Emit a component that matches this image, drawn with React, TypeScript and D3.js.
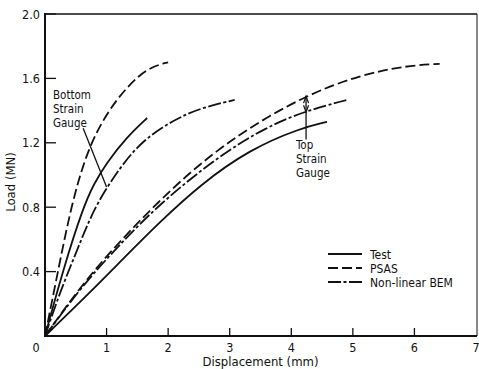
import React from "react";
import * as d3 from "d3";

type P = [number, number];

const xTicks = [0, 1, 2, 3, 4, 5, 6, 7];
const yTicks = [0.4, 0.8, 1.2, 1.6, 2.0];
const yTickLabels = ["0.4", "0.8", "1.2", "1.6", "2.0"];

const bottomTest: P[] = [[0, 0], [0.3, 0.42], [0.62, 0.8], [0.8, 0.95], [1.0, 1.075], [1.33, 1.236], [1.66, 1.354]];
const bottomPSAS: P[] = [[0, 0], [0.21, 0.4], [0.42, 0.8], [0.68, 1.15], [1.0, 1.385], [1.33, 1.547], [1.66, 1.665], [2.0, 1.7]];
const bottomBEM: P[] = [[0, 0], [0.25, 0.28], [0.54, 0.55], [0.8, 0.8], [1.22, 1.05], [1.59, 1.217], [2.08, 1.34], [2.52, 1.416], [3.08, 1.466]];

const topTest: P[] = [[0, 0], [0.73, 0.27], [1.27, 0.48], [1.87, 0.71], [2.52, 0.94], [3.33, 1.16], [4.14, 1.29], [4.58, 1.33]];
const topPSAS: P[] = [[0, 0], [0.62, 0.33], [1.22, 0.59], [1.83, 0.83], [2.52, 1.075], [3.33, 1.3], [4.25, 1.497], [5.11, 1.62], [5.88, 1.68], [6.41, 1.69]];
const topBEM: P[] = [[0, 0], [0.62, 0.32], [1.22, 0.57], [1.83, 0.81], [2.79, 1.11], [3.6, 1.3], [4.25, 1.4], [4.9, 1.466]];

const legendLabels = ["Test", "PSAS", "Non-linear BEM"];
const bottomLabel = ["Bottom", "Strain", "Gauge"];
const topLabel = ["Top", "Strain", "Gauge"];

const W = 479;
const H = 369;
const FONT = "'DejaVu Sans Condensed', 'DejaVu Sans', sans-serif";

const DASH_TEST = "none";
const DASH_PSAS = "10,4";
const DASH_BEM = "13,2.5,3,2.5";

export default function App() {
  const x = d3.scaleLinear().domain([0, 7]).range([45, 476]);
  const y = d3.scaleLinear().domain([0, 2]).range([336, 14]);
  const line = d3
    .line<P>()
    .x((d) => x(d[0]))
    .y((d) => y(d[1]))
    .curve(d3.curveBasis);

  const series = [
    { d: bottomTest, dash: DASH_TEST },
    { d: bottomPSAS, dash: DASH_PSAS },
    { d: bottomBEM, dash: DASH_BEM },
    { d: topTest, dash: DASH_TEST },
    { d: topPSAS, dash: DASH_PSAS },
    { d: topBEM, dash: DASH_BEM },
  ];
  const legendDash = [DASH_TEST, DASH_PSAS, DASH_BEM];

  const x0 = x(0), x7 = x(7), y0 = y(0), y2 = y(2);
  const topX = x(4.24);

  return (
    <svg
      width={W}
      height={H}
      style={{ position: "absolute", left: 0, top: 0, background: "#fff" }}
      fontFamily={FONT}
    >
      <rect x={0} y={0} width={W} height={H} fill="#fff" />
      {/* frame */}
      <line x1={x0} x2={x7 + 1} y1={y2} y2={y2} stroke="#111" strokeWidth={1.4} />
      <line x1={x7 + 1} x2={x7 + 1} y1={y2} y2={y0} stroke="#111" strokeWidth={1} />
      <line x1={x0} x2={x0} y1={y2 - 1} y2={y0 + 1} stroke="#111" strokeWidth={2} />
      <line x1={x0 - 1} x2={x7 + 1} y1={y0} y2={y0} stroke="#111" strokeWidth={2} />

      {/* y ticks */}
      {yTicks.map((t, i) => (
        <g key={"y" + t}>
          <line x1={x0} x2={x0 + 11} y1={y(t)} y2={y(t)} stroke="#111" strokeWidth={1.3} />
          <text x={x0 - 5} y={y(t) + 4.5} fontSize={12.5} textAnchor="end" fill="#111">
            {yTickLabels[i]}
          </text>
        </g>
      ))}
      {/* x ticks */}
      {xTicks.map((t) => (
        <g key={"x" + t}>
          {t > 0 && t < 7 && (
            <line x1={x(t)} x2={x(t)} y1={y0} y2={y0 - 8} stroke="#111" strokeWidth={1.3} />
          )}
          <text
            x={t === 0 ? x(t) - 9 : x(t)}
            y={y0 + 16}
            fontSize={12.5}
            textAnchor="middle"
            fill="#111"
          >
            {t}
          </text>
        </g>
      ))}

      <text x={(x0 + x7) / 2 + 0} y={366} fontSize={13} textAnchor="middle" fill="#111">
        Displacement  (mm)
      </text>
      <text
        transform={`translate(15,182) rotate(-90)`}
        fontSize={13}
        textAnchor="middle"
        fill="#111"
      >
        Load  (MN)
      </text>

      {/* curves */}
      {series.map((s, i) => (
        <path
          key={i}
          d={line(s.d) || ""}
          fill="none"
          stroke="#111"
          strokeWidth={1.8}
          strokeDasharray={s.dash}
        />
      ))}

      {/* bottom strain gauge annotation */}
      {bottomLabel.map((t, i) => (
        <text key={t} x={53} y={99 + i * 14} fontSize={11.5} fill="#111">
          {t}
        </text>
      ))}
      <line x1={x(0.62)} y1={y(1.29)} x2={x(1.0)} y2={y(0.925)} stroke="#111" strokeWidth={1.3} />

      {/* top strain gauge annotation */}
      <line x1={topX} x2={topX} y1={y(1.49)} y2={y(1.22)} stroke="#111" strokeWidth={1.3} />
      <path
        d={`M${topX - 2.5},${y(1.49) + 7} L${topX},${y(1.49)} L${topX + 2.5},${y(1.49) + 7}`}
        fill="none"
        stroke="#111"
        strokeWidth={1.2}
      />
      <path
        d={`M${topX - 2.5},${y(1.39) - 7} L${topX},${y(1.39)} L${topX + 2.5},${y(1.39) - 7}`}
        fill="none"
        stroke="#111"
        strokeWidth={1.2}
      />
      {topLabel.map((t, i) => (
        <text key={t} x={296} y={149 + i * 14} fontSize={11.5} fill="#111">
          {t}
        </text>
      ))}

      {/* legend */}
      {legendLabels.map((t, i) => {
        const ly = [254, 268, 282][i];
        return (
          <g key={t}>
            <line x1={328} x2={362} y1={ly} y2={ly} stroke="#111" strokeWidth={1.8} strokeDasharray={legendDash[i]} />
            <text x={370} y={ly + 4.5} fontSize={12} fill="#111">
              {t}
            </text>
          </g>
        );
      })}
    </svg>
  );
}
